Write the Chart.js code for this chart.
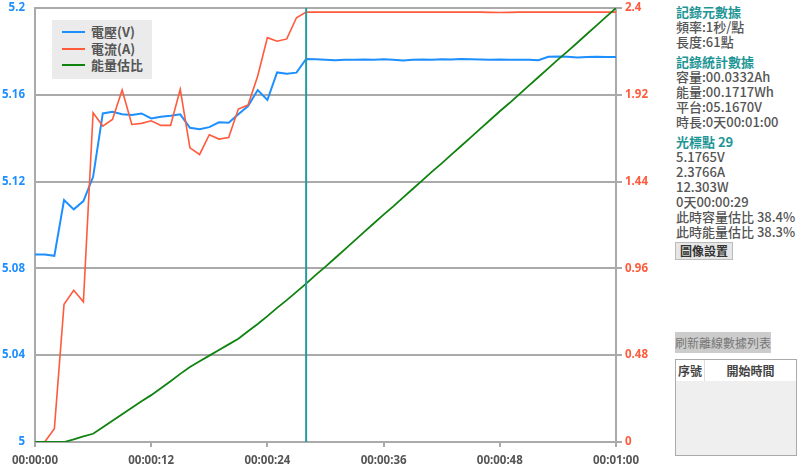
<!DOCTYPE html>
<html>
<head>
<meta charset="utf-8">
<script src="https://cdn.jsdelivr.net/npm/chart.js@4"></script>
<style>
    body { margin: 0; background: #fff; font-family: "Noto Sans CJK TC", "Noto Sans", sans-serif; }
    #wrap { position: relative; width: 800px; height: 464px; overflow: hidden; }
    #chartBox { position: absolute; left: 0; top: 0; width: 660px; height: 464px; }
    #legend { position: absolute; left: 52px; top: 20px; width: 100px; height: 59px; background: #ebebeb; }
    #legend .item { position: absolute; left: 10px; height: 16px; font-size: 13px; font-weight: bold; color: #555; line-height: 16px; }
    #legend .swatch { position: absolute; left: 0; top: 7px; width: 23px; height: 2px; }
    #legend .label { position: absolute; left: 29px; top: 0; white-space: nowrap; }
    #panel { position: absolute; left: 676px; top: 4px; font-size: 13px; color: #555; font-weight: 500; line-height: 15px; }
    #panel .head { color: #1f9696; font-weight: bold; }
    #panel .gap { height: 5px; }
    .btn { position: absolute; background: #e6e6e6; border: 1px solid #bbb; font-size: 12px; text-align: center; color: #333; font-weight: bold; }
    #offline { position: absolute; left: 675px; top: 332px; width: 96px; height: 21px; background: #cccccc; color: #777; font-size: 12px; line-height: 21px; text-align: center; }
    #table { position: absolute; left: 675px; top: 359px; width: 120px; height: 95px; border: 1px solid #aaa; background: #efefef; }
    #table .hdr { position: absolute; left: 0; top: 0; width: 120px; height: 21px; background: #fff; font-size: 12px; font-weight: bold; color: #444; line-height: 21px; }
</style>
</head>
<body>
<div id="wrap">
    <div id="chartBox"><canvas id="chart" width="660" height="464"></canvas></div>
    <div id="legend"></div>
    <div id="panel"></div>
    <div class="btn" style="left:675px; top:242px; width:56px; height:16px; line-height:16px;">圖像設置</div>
    <div id="offline">刷新離線數據列表</div>
    <div id="table">
        <div class="hdr">
            <span style="position:absolute; left:0; width:28px; text-align:center;">序號</span>
            <span style="position:absolute; left:28px; top:0; height:21px; border-left:1px solid #ddd;"></span>
            <span style="position:absolute; left:29px; width:91px; text-align:center;">開始時間</span>
        </div>
    </div>
</div>
<script>
// Series (one point per second, 61 points)
const voltage = [
    5.0864, 5.0864, 5.0858, 5.1115, 5.1072, 5.1110, 5.1222, 5.1514, 5.1522, 5.1510,
    5.1507, 5.1514, 5.1491, 5.1499, 5.1503, 5.1510, 5.1448, 5.1441, 5.1451, 5.1473,
    5.1471, 5.1510, 5.1548, 5.1622, 5.1576, 5.1703, 5.1697, 5.1702, 5.1765, 5.1764,
    5.1762, 5.1759, 5.1762, 5.1761, 5.1763, 5.1762, 5.1764, 5.1762, 5.1758, 5.1762,
    5.1763, 5.1762, 5.1764, 5.1763, 5.1765, 5.1764, 5.1763, 5.1762, 5.1763, 5.1762,
    5.1761, 5.1762, 5.1759, 5.1775, 5.1777, 5.1775, 5.1772, 5.1774, 5.1775, 5.1774,
    5.1774
];
const current = [
    0, 0, 0.074, 0.762, 0.839, 0.775, 1.821, 1.747, 1.784, 1.946,
    1.756, 1.762, 1.776, 1.751, 1.751, 1.950, 1.627, 1.590, 1.699, 1.675,
    1.684, 1.841, 1.863, 2.024, 2.236, 2.216, 2.229, 2.346, 2.377, 2.377,
    2.377, 2.377, 2.377, 2.377, 2.377, 2.377, 2.377, 2.377, 2.377, 2.377,
    2.377, 2.377, 2.377, 2.377, 2.377, 2.377, 2.377, 2.376, 2.375, 2.376,
    2.377, 2.377, 2.377, 2.377, 2.377, 2.377, 2.377, 2.377, 2.377, 2.377,
    2.377
];
const energyRatio = [
    0, 0, 0, 0, 0.6, 1.3, 1.9, 3.4, 4.9, 6.4,
    7.9, 9.4, 10.8, 12.4, 14.0, 15.7, 17.3, 18.6, 19.9, 21.2,
    22.5, 23.8, 25.5, 27.2, 29.0, 30.9, 32.7, 34.6, 36.5, 38.5,
    40.4, 42.4, 44.4, 46.4, 48.4, 50.4, 52.4, 54.3, 56.3, 58.3,
    60.3, 62.3, 64.2, 66.2, 68.2, 70.2, 72.2, 74.2, 76.2, 78.1,
    80.1, 82.1, 84.1, 86.1, 88.1, 90.0, 92.0, 94.0, 96.0, 98.0,
    100
];

// Axis ticks
const timeTicks = [0, 12, 24, 36, 48, 60];
const timeLabels = ["00:00:00", "00:00:12", "00:00:24", "00:00:36", "00:00:48", "00:01:00"];
const voltTicks = [5, 5.04, 5.08, 5.12, 5.16, 5.2];
const ampTicks = [0, 0.48, 0.96, 1.44, 1.92, 2.4];

const cursorIndex = 28;

const seriesNames = ["電壓(V)", "電流(A)", "能量估比"];
const seriesColors = ["#1e8fff", "#ff5a3c", "#0f820f"];

const panelLines = [
    ["head", "記錄元數據"],
    ["", "頻率:1秒/點"],
    ["", "長度:61點"],
    ["gap", ""],
    ["head", "記錄統計數據"],
    ["", "容量:00.0332Ah"],
    ["", "能量:00.1717Wh"],
    ["", "平台:05.1670V"],
    ["", "時長:0天00:01:00"],
    ["gap", ""],
    ["head", "光標點 29"],
    ["", "5.1765V"],
    ["", "2.3766A"],
    ["", "12.303W"],
    ["", "0天00:00:29"],
    ["", "此時容量估比 38.4%"],
    ["", "此時能量估比 38.3%"]
];

// Legend and side panel
const legendEl = document.getElementById("legend");
seriesNames.forEach((name, i) => {
    legendEl.innerHTML += `<div class="item" style="top:${4 + i * 16.5}px">
        <div class="swatch" style="background:${seriesColors[i]}"></div>
        <div class="label">${name}</div></div>`;
});
document.getElementById("panel").innerHTML = panelLines
    .map(([cls, text]) => `<div class="${cls}">${text}</div>`).join("");

const toXY = arr => arr.map((v, i) => ({ x: i, y: v }));
const gridGray = "#aaaaaa";
const tickFont = { family: "Noto Sans", size: 11.5, weight: "bold" };

// Vertical cursor line
const cursorPlugin = {
    id: "cursor",
    afterDatasetsDraw(chart) {
        const ctx = chart.ctx;
        const x = chart.scales.x.getPixelForValue(cursorIndex);
        ctx.save();
        ctx.strokeStyle = "#2a9a9e";
        ctx.lineWidth = 2;
        ctx.beginPath();
        ctx.moveTo(x, chart.chartArea.top);
        ctx.lineTo(x, chart.chartArea.bottom);
        ctx.stroke();
        ctx.restore();
    }
};

// fixed axis sizes so the plot area lands where the reference has it
const fitSide = width => s => {
    s.width = width;
    s.paddingTop = 8;
    s.paddingBottom = 0;
};

new Chart(document.getElementById("chart"), {
    type: "line",
    data: {
        datasets: [
            { label: seriesNames[0], data: toXY(voltage), yAxisID: "yV", borderColor: seriesColors[0], borderWidth: 2, order: 2 },
            { label: seriesNames[1], data: toXY(current), yAxisID: "yA", borderColor: seriesColors[1], borderWidth: 1.6, order: 1 },
            { label: seriesNames[2], data: toXY(energyRatio), yAxisID: "yE", borderColor: seriesColors[2], borderWidth: 1.8, order: 0 }
        ]
    },
    options: {
        responsive: false,
        animation: false,
        layout: { padding: 0 },
        elements: { point: { radius: 0 }, line: { tension: 0 } },
        plugins: { legend: { display: false }, tooltip: { enabled: false } },
        scales: {
            x: {
                type: "linear",
                min: 0,
                max: 60,
                afterBuildTicks: s => { s.ticks = timeTicks.map(v => ({ value: v })); },
                afterFit: s => { s.height = 22; },
                ticks: {
                    font: tickFont,
                    color: "#555",
                    padding: 7,
                    maxRotation: 0,
                    callback: v => timeLabels[timeTicks.indexOf(v)]
                },
                grid: { drawOnChartArea: false, drawTicks: true, tickLength: 5, color: gridGray, lineWidth: 2 },
                border: { color: gridGray, width: 2 }
            },
            yV: {
                position: "left",
                min: 5,
                max: 5.2,
                afterBuildTicks: s => { s.ticks = voltTicks.map(v => ({ value: v })); },
                afterFit: fitSide(35),
                ticks: { font: tickFont, color: "#1e8fff", padding: 10, callback: v => String(v) },
                grid: { color: gridGray, lineWidth: 2, drawTicks: false },
                border: { color: gridGray, width: 2 }
            },
            yA: {
                position: "right",
                min: 0,
                max: 2.4,
                afterBuildTicks: s => { s.ticks = ampTicks.map(v => ({ value: v })); },
                afterFit: fitSide(44),
                ticks: { font: tickFont, color: "#ff5a3c", padding: 3, callback: v => String(v) },
                grid: { drawOnChartArea: false, drawTicks: true, tickLength: 6, color: gridGray, lineWidth: 2 },
                border: { color: gridGray, width: 2 }
            },
            yE: {
                display: false,
                min: 0,
                max: 100
            }
        }
    },
    plugins: [cursorPlugin]
});
</script>
</body>
</html>
